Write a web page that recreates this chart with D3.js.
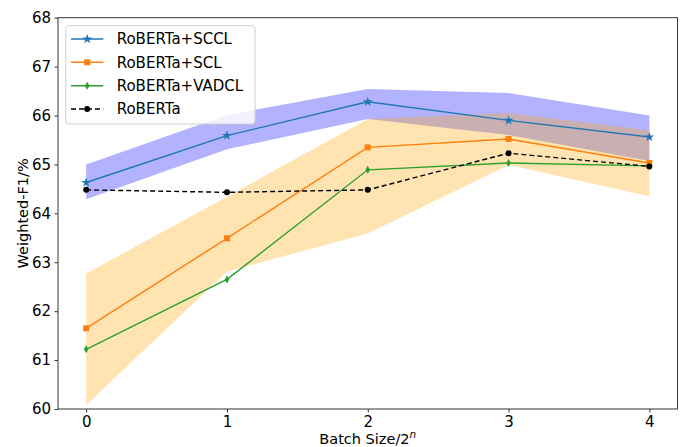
<!DOCTYPE html>
<html>
<head>
<meta charset="utf-8">
<script src="https://cdn.jsdelivr.net/npm/d3@7"></script>
<style>
  html, body { margin: 0; padding: 0; background: #fff; }
  svg { display: block; font-family: "DejaVu Sans", sans-serif; }
</style>
</head>
<body>
<svg id="chart" width="688" height="447"></svg>
<script>
// ---- data ----
const batchExp = [0, 1, 2, 3, 4];
const scclMean = [64.63, 65.59, 66.28, 65.90, 65.56];
const scclLow  = [64.29, 65.31, 65.93, 65.60, 65.07];
const scclHigh = [65.00, 66.01, 66.54, 66.46, 66.00];
const sclMean  = [61.65, 63.49, 65.35, 65.52, 65.03];
const sclLow   = [60.08, 62.81, 63.59, 64.99, 64.35];
const sclHigh  = [62.77, 64.34, 65.93, 66.05, 65.70];
const vadclMean = [61.22, 62.65, 64.89, 65.03, 64.97];
const robertaMean = [64.48, 64.43, 64.48, 65.23, 64.96];
const yTicks = [60, 61, 62, 63, 64, 65, 66, 67, 68];
const xTicks = [0, 1, 2, 3, 4];
const seriesNames = ["RoBERTa+SCCL", "RoBERTa+SCL", "RoBERTa+VADCL", "RoBERTa"];

// ---- layout ----
const svg = d3.select("#chart");
const L = 58, R = 677.5, T = 17.7, B = 409;
const x = d3.scaleLinear().domain([-0.2, 4.2]).range([L, R]);
const y = d3.scaleLinear().domain([60, 68]).range([B, T]);

const blue = "#1f77b4", orange = "#ff7f0e", green = "#2ca02c";

const area = (lo, hi) => d3.area()
  .x((d, i) => x(batchExp[i]))
  .y0((d, i) => y(lo[i]))
  .y1((d, i) => y(hi[i]))(batchExp);

// bands
svg.append("path").attr("d", area(scclLow, scclHigh))
  .attr("fill", "#0000ff").attr("fill-opacity", 0.3);
svg.append("path").attr("d", area(sclLow, sclHigh))
  .attr("fill", "#ffa500").attr("fill-opacity", 0.3);

const line = vals => d3.line()
  .x((d, i) => x(batchExp[i]))
  .y((d, i) => y(vals[i]))(batchExp);

const series = [
  { vals: scclMean, color: blue, marker: "star", dash: null },
  { vals: sclMean, color: orange, marker: "square", dash: null },
  { vals: vadclMean, color: green, marker: "thin_diamond", dash: null },
  { vals: robertaMean, color: "#000", marker: "circle", dash: "5,3" }
];

function drawMarker(g, type, cx, cy, color) {
  if (type === "star") {
    g.append("path").attr("d", d3.symbol().type(d3.symbolStar).size(30)())
      .attr("transform", `translate(${cx},${cy})`).attr("fill", color);
  } else if (type === "square") {
    g.append("rect").attr("x", cx - 3).attr("y", cy - 3).attr("width", 6).attr("height", 6)
      .attr("fill", color);
  } else if (type === "thin_diamond") {
    g.append("path").attr("d", `M${cx},${cy-4} L${cx+2.3},${cy} L${cx},${cy+4} L${cx-2.3},${cy} Z`)
      .attr("fill", color);
  } else {
    g.append("circle").attr("cx", cx).attr("cy", cy).attr("r", 3).attr("fill", color);
  }
}

series.forEach(s => {
  svg.append("path").attr("d", line(s.vals))
    .attr("fill", "none").attr("stroke", s.color).attr("stroke-width", 1.4)
    .attr("stroke-dasharray", s.dash);
  const g = svg.append("g");
  s.vals.forEach((v, i) => drawMarker(g, s.marker, x(batchExp[i]), y(v), s.color));
});

// axes frame
svg.append("rect").attr("x", L).attr("y", T).attr("width", R - L).attr("height", B - T)
  .attr("fill", "none").attr("stroke", "#333").attr("stroke-width", 1);

const xAxis = svg.append("g").attr("transform", `translate(0,${B})`)
  .call(d3.axisBottom(x).tickValues(xTicks).tickSize(3.5).tickPadding(3.5).tickFormat(d3.format("d")));
const yAxis = svg.append("g").attr("transform", `translate(${L},0)`)
  .call(d3.axisLeft(y).tickValues(yTicks).tickSize(3.5).tickPadding(3.5).tickFormat(d3.format("d")));
[xAxis, yAxis].forEach(a => {
  a.select(".domain").remove();
  a.selectAll("line").attr("stroke", "#333");
  a.selectAll("text").attr("font-family", "DejaVu Sans").attr("font-size", 15).attr("fill", "#000");
});

// axis labels
const xl = svg.append("text").attr("x", (L + R) / 2).attr("y", 443.5)
  .attr("text-anchor", "middle").attr("font-size", 14.5).attr("fill", "#000");
xl.append("tspan").text("Batch Size/2");
xl.append("tspan").text("n").attr("font-style", "italic").attr("font-size", 10.5).attr("dy", -6);

svg.append("text").attr("transform", `translate(28,${(T + B) / 2}) rotate(-90)`)
  .attr("text-anchor", "middle").attr("font-size", 14.5).attr("fill", "#000")
  .text("Weighted-F1/%");

// legend
const lg = svg.append("g");
lg.append("rect").attr("x", 65.7).attr("y", 25.7).attr("width", 189.3).attr("height", 98.3)
  .attr("rx", 3).attr("fill", "#fff").attr("fill-opacity", 0.8)
  .attr("stroke", "#d0d0d0").attr("stroke-width", 1);
const rowY = [39, 62.3, 85.7, 109];
series.forEach((s, i) => {
  lg.append("line").attr("x1", 71).attr("x2", 103.3).attr("y1", rowY[i]).attr("y2", rowY[i])
    .attr("stroke", s.color).attr("stroke-width", 1.4).attr("stroke-dasharray", s.dash);
  drawMarker(lg, s.marker, 87.2, rowY[i], s.color);
  lg.append("text").attr("x", 116.7).attr("y", rowY[i]).attr("dy", "0.36em")
    .attr("font-size", 15).attr("fill", "#000").text(seriesNames[i]);
});
</script>
</body>
</html>
